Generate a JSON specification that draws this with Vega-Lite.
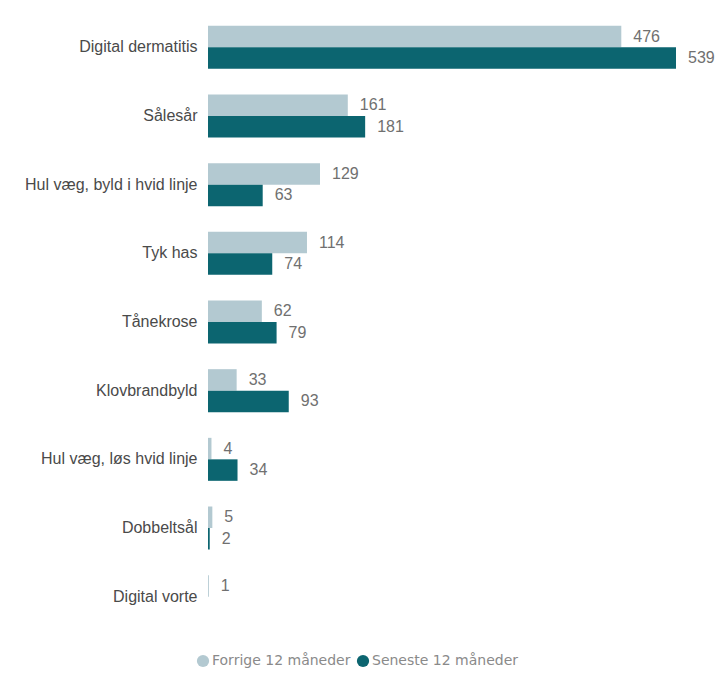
{
  "$schema": "https://vega.github.io/schema/vega-lite/v6.json",
  "autosize": "none",
  "width": 468,
  "height": 618,
  "padding": {"left": 208, "top": 13, "right": 44, "bottom": 44},
  "background": "white",
  "config": {"view": {"stroke": null}, "font": "Liberation Sans"},
  "data": {"values": [
    {"kategori": "Digital dermatitis", "serie": "Forrige 12 måneder", "antal": 476},
    {"kategori": "Digital dermatitis", "serie": "Seneste 12 måneder", "antal": 539},
    {"kategori": "Sålesår", "serie": "Forrige 12 måneder", "antal": 161},
    {"kategori": "Sålesår", "serie": "Seneste 12 måneder", "antal": 181},
    {"kategori": "Hul væg, byld i hvid linje", "serie": "Forrige 12 måneder", "antal": 129},
    {"kategori": "Hul væg, byld i hvid linje", "serie": "Seneste 12 måneder", "antal": 63},
    {"kategori": "Tyk has", "serie": "Forrige 12 måneder", "antal": 114},
    {"kategori": "Tyk has", "serie": "Seneste 12 måneder", "antal": 74},
    {"kategori": "Tånekrose", "serie": "Forrige 12 måneder", "antal": 62},
    {"kategori": "Tånekrose", "serie": "Seneste 12 måneder", "antal": 79},
    {"kategori": "Klovbrandbyld", "serie": "Forrige 12 måneder", "antal": 33},
    {"kategori": "Klovbrandbyld", "serie": "Seneste 12 måneder", "antal": 93},
    {"kategori": "Hul væg, løs hvid linje", "serie": "Forrige 12 måneder", "antal": 4},
    {"kategori": "Hul væg, løs hvid linje", "serie": "Seneste 12 måneder", "antal": 34},
    {"kategori": "Dobbeltsål", "serie": "Forrige 12 måneder", "antal": 5},
    {"kategori": "Dobbeltsål", "serie": "Seneste 12 måneder", "antal": 2},
    {"kategori": "Digital vorte", "serie": "Forrige 12 måneder", "antal": 1}
  ]},
  "encoding": {
    "y": {
      "field": "kategori", "type": "nominal", "sort": null,
      "scale": {"paddingInner": 0.374, "paddingOuter": 0.187},
      "axis": {"title": null, "domain": false, "ticks": false, "labelPadding": 11,
               "labelFontSize": 16, "labelColor": "#4a4a4a", "labelFont": "Liberation Sans"}
    },
    "yOffset": {
      "field": "serie", "type": "nominal",
      "sort": ["Forrige 12 måneder", "Seneste 12 måneder"],
      "scale": {"domain": ["Forrige 12 måneder", "Seneste 12 måneder"], "paddingInner": 0, "paddingOuter": 0}
    }
  },
  "layer": [
    {
      "mark": {"type": "bar"},
      "encoding": {
        "x": {"field": "antal", "type": "quantitative",
              "scale": {"domain": [0, 539], "nice": false},
              "axis": null},
        "color": {
          "field": "serie", "type": "nominal",
          "scale": {"domain": ["Forrige 12 måneder", "Seneste 12 måneder"], "range": ["#b3c9d1", "#0c6570"]},
          "legend": {
            "title": null, "orient": "none", "direction": "horizontal",
            "legendX": -12, "legendY": 641,
            "symbolType": "circle", "symbolSize": 150, "symbolOpacity": 1,
            "labelFont": "DejaVu Sans", "labelFontSize": 14, "labelColor": "#8a8a8a",
            "columnPadding": 5, "labelOffset": 2
          }
        }
      }
    },
    {
      "mark": {"type": "text", "align": "left", "dx": 12, "fontSize": 16, "color": "#707070", "font": "Liberation Sans"},
      "encoding": {
        "x": {"field": "antal", "type": "quantitative"},
        "text": {"field": "antal", "type": "quantitative"}
      }
    }
  ]
}
